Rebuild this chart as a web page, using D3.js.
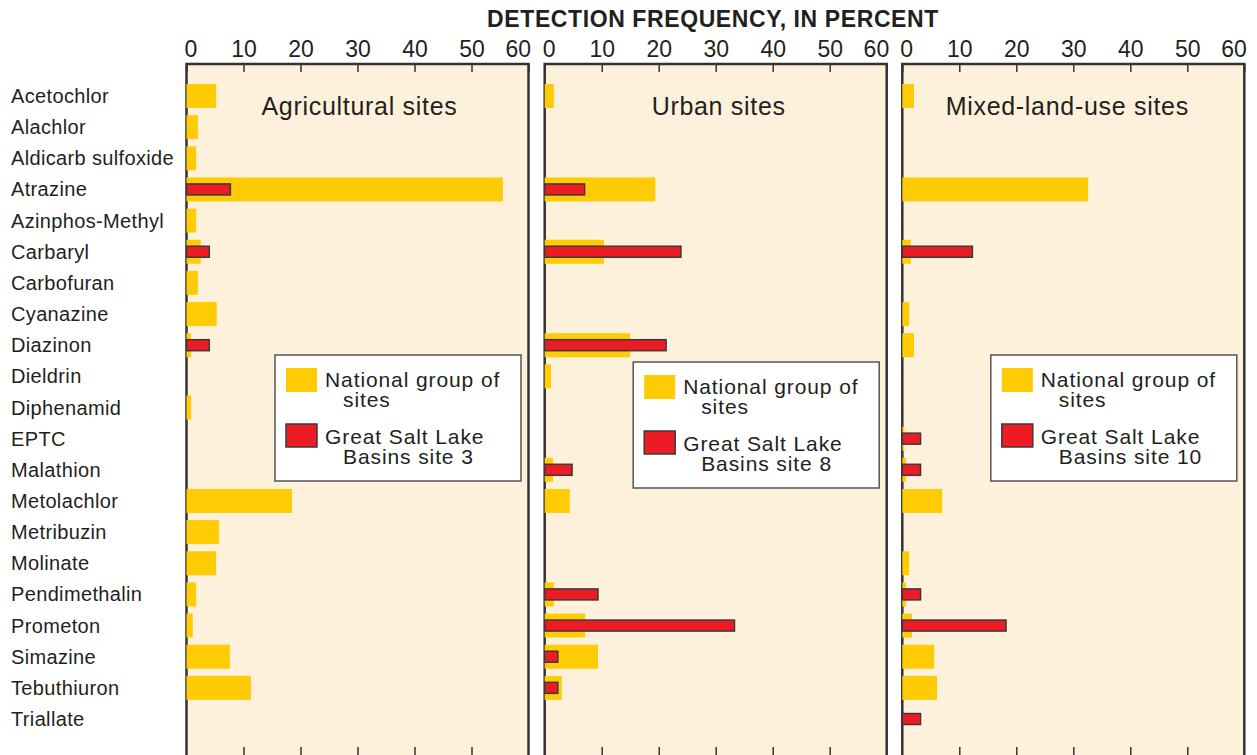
<!DOCTYPE html>
<html>
<head>
<meta charset="utf-8">
<script src="https://cdn.jsdelivr.net/npm/d3@7"></script>
<style>
  body { margin: 0; background: #fff; }
  text { font-family: "Liberation Sans", Arial, Helvetica, sans-serif; fill: #231f20; }
</style>
</head>
<body>
<svg id="chart" width="1257" height="755"></svg>
<script>
// pesticide detection frequency, national group vs Great Salt Lake site
var categories = ["Acetochlor", "Alachlor", "Aldicarb sulfoxide", "Atrazine", "Azinphos-Methyl",
    "Carbaryl", "Carbofuran", "Cyanazine", "Diazinon", "Dieldrin", "Diphenamid", "EPTC",
    "Malathion", "Metolachlor", "Metribuzin", "Molinate", "Pendimethalin", "Prometon",
    "Simazine", "Tebuthiuron", "Triallate"];

var agNational = [5.2, 2.0, 1.7, 55.5, 1.7, 2.5, 2.0, 5.3, 0.8, 0, 0.8, 0, 0, 18.5, 5.7, 5.2, 1.7, 1.1, 7.6, 11.3, 0];
var agSite = [0, 0, 0, 7.7, 0, 4.0, 0, 0, 4.0, 0, 0, 0, 0, 0, 0, 0, 0, 0, 0, 0, 0];

var urbanNational = [1.6, 0, 0, 19.4, 0, 10.4, 0, 0, 15.0, 1.1, 0, 0, 1.45, 4.4, 0, 0, 1.6, 7.1, 9.35, 3.0, 0];
var urbanSite = [0, 0, 0, 7.0, 0, 23.9, 0, 0, 21.3, 0, 0, 0, 4.8, 0, 0, 0, 9.35, 33.3, 2.3, 2.3, 0];

var mixedNational = [2.05, 0, 0, 32.6, 0, 1.5, 0, 1.2, 2.05, 0, 0, 0.35, 0.65, 7.0, 0, 1.2, 0.65, 1.7, 5.6, 6.1, 0];
var mixedSite = [0, 0, 0, 0, 0, 12.3, 0, 0, 0, 0, 0, 3.2, 3.2, 0, 0, 0, 3.2, 18.2, 0, 0, 3.2];

var tickValues = [0, 10, 20, 30, 40, 50, 60];
var panelTitles = ["Agricultural sites", "Urban sites", "Mixed-land-use sites"];
var siteLabels = ["Basins site 3", "Basins site 8", "Basins site 10"];

var panels = [
    {title: panelTitles[0], national: agNational, site: agSite, siteLabel: siteLabels[0], left: 186.5, titleDx: 2, legendTop: 355},
    {title: panelTitles[1], national: urbanNational, site: urbanSite, siteLabel: siteLabels[1], left: 544.7, titleDx: 3, legendTop: 362},
    {title: panelTitles[2], national: mixedNational, site: mixedSite, siteLabel: siteLabels[2], left: 902.3, titleDx: -6, legendTop: 355}
];

var svg = d3.select("#chart"),
    panelWidth = 342,
    panelTop = 64,
    panelBottom = 755;

var y = d3.scaleBand()
    .domain(categories)
    .range([80.4, 734.6])
    .paddingInner(0.23)
    .paddingOuter(0.115);

var bigH = 24, smallH = 11;

svg.append("text")
    .attr("x", 713)
    .attr("y", 27)
    .attr("text-anchor", "middle")
    .style("font-size", "23px")
    .style("font-weight", "bold")
    .style("letter-spacing", "0.6px")
    .text("DETECTION FREQUENCY, IN PERCENT");

svg.append("g")
    .selectAll("text")
    .data(categories)
    .enter().append("text")
    .attr("x", 11)
    .attr("y", function (d) { return y(d) + y.bandwidth() / 2 + 7; })
    .style("font-size", "20px")
    .style("letter-spacing", "0.35px")
    .text(function (d) { return d; });

panels.forEach(function (p) {
    var x = d3.scaleLinear().domain([0, 60]).range([p.left, p.left + panelWidth]);
    var g = svg.append("g");

    g.append("rect")
        .attr("x", p.left)
        .attr("y", panelTop)
        .attr("width", panelWidth)
        .attr("height", panelBottom + 10 - panelTop)
        .attr("fill", "#fef1dc")
        .attr("stroke", "#333")
        .attr("stroke-width", 2.5);

    // top axis with inward ticks
    var axTop = g.append("g")
        .attr("transform", "translate(0," + panelTop + ")")
        .call(d3.axisTop(x).tickValues(tickValues).tickSizeInner(-8).tickSizeOuter(0).tickPadding(7));
    axTop.select(".domain").remove();
    axTop.selectAll("line").attr("stroke", "#333").attr("stroke-width", 1.5);
    axTop.selectAll("text")
        .style("font-size", "23px")
        .style("font-family", "'Liberation Sans', Arial, sans-serif")
        .attr("fill", "#231f20")
        .attr("text-anchor", function (d) { return d === 0 ? "start" : d === 60 ? "end" : "middle"; })
        .attr("dx", function (d) { return d === 0 ? -2.5 : d === 60 ? 2 : 0; });

    var axBottom = g.append("g")
        .attr("transform", "translate(0," + panelBottom + ")")
        .call(d3.axisBottom(x).tickValues(tickValues.slice(1, -1)).tickSizeInner(-8).tickSizeOuter(0).tickFormat(""));
    axBottom.select(".domain").remove();
    axBottom.selectAll("line").attr("stroke", "#333").attr("stroke-width", 1.5);

    g.append("text")
        .attr("x", p.left + panelWidth / 2 + p.titleDx)
        .attr("y", 115)
        .attr("text-anchor", "middle")
        .style("font-size", "25px")
        .style("letter-spacing", "0.7px")
        .text(p.title);

    g.append("g")
        .selectAll("rect")
        .data(categories.filter(function (c, i) { return p.national[i] > 0; }))
        .enter().append("rect")
        .attr("x", x(0))
        .attr("y", function (d) { return y(d) + y.bandwidth() / 2 - bigH / 2; })
        .attr("width", function (d) { return x(p.national[categories.indexOf(d)]) - x(0); })
        .attr("height", bigH)
        .attr("fill", "#ffcb05");

    g.append("g")
        .selectAll("rect")
        .data(categories.filter(function (c, i) { return p.site[i] > 0; }))
        .enter().append("rect")
        .attr("x", x(0))
        .attr("y", function (d) { return y(d) + y.bandwidth() / 2 - smallH / 2; })
        .attr("width", function (d) { return x(p.site[categories.indexOf(d)]) - x(0); })
        .attr("height", smallH)
        .attr("fill", "#ed1c24")
        .attr("stroke", "#3a3a3a")
        .attr("stroke-width", 1.5);

    // legend
    var lx = p.left + 88.5, ly = p.legendTop;
    var lg = g.append("g").attr("transform", "translate(" + lx + "," + ly + ")");
    lg.append("rect")
        .attr("width", 246)
        .attr("height", 126)
        .attr("fill", "#fff")
        .attr("stroke", "#555")
        .attr("stroke-width", 1.5);
    lg.append("rect")
        .attr("x", 11).attr("y", 13)
        .attr("width", 31).attr("height", 24)
        .attr("fill", "#ffcb05");
    lg.append("rect")
        .attr("x", 11).attr("y", 69)
        .attr("width", 31).attr("height", 23)
        .attr("fill", "#ed1c24")
        .attr("stroke", "#3a3a3a")
        .attr("stroke-width", 1.5);
    var legendLines = [
        {x: 50, y: 32, t: "National group of"},
        {x: 68, y: 52, t: "sites"},
        {x: 50, y: 89, t: "Great Salt Lake"},
        {x: 68, y: 109, t: p.siteLabel}
    ];
    lg.selectAll("text.lbl")
        .data(legendLines)
        .enter().append("text")
        .attr("class", "lbl")
        .attr("x", function (d) { return d.x; })
        .attr("y", function (d) { return d.y; })
        .style("font-size", "21px")
        .style("letter-spacing", "0.9px")
        .text(function (d) { return d.t; });
});
</script>
</body>
</html>
